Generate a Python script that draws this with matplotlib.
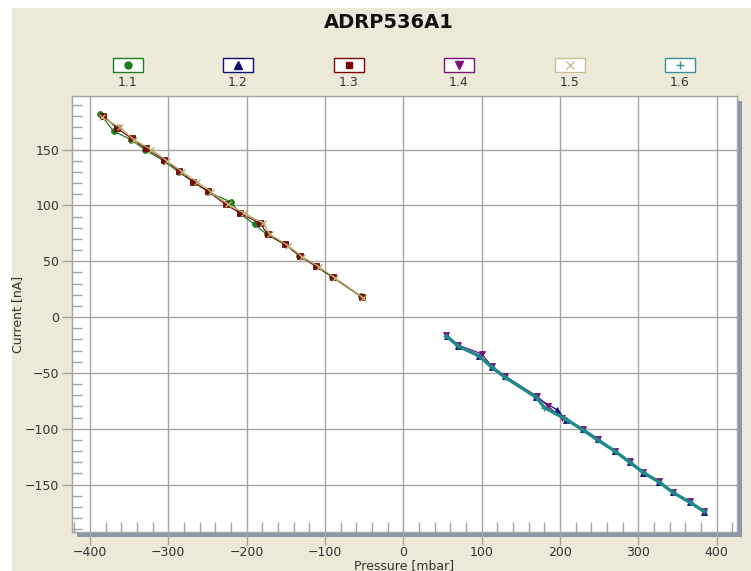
"""Pressure sweep chart for ADRP536A1."""

import matplotlib

matplotlib.use("Agg")
import matplotlib.pyplot as plt
from matplotlib.lines import Line2D
from matplotlib.patches import Rectangle
from matplotlib.ticker import MultipleLocator

# ---- data ----
labels = ["1.1", "1.2", "1.3", "1.4", "1.5", "1.6"]

x_11 = [-387, -370, -348, -330, -306, -287, -268, -249, -220, -209, -190, -174, -151, -133, -112, -91, -54]
y_11 = [182, 166.5, 159, 150, 140, 130, 121, 112, 103, 93, 83, 74, 65, 55, 45.5, 36, 18.5]

x_13 = [-383, -365, -347, -329, -305, -286, -268, -250, -227, -208, -183, -173, -151, -132, -112, -90, -53]
y_13 = [180, 169, 160, 151, 141, 131, 121, 113, 101, 93, 84, 74, 65, 55, 46, 36, 18]

x_15 = [-385, -362, -344, -322, -302, -282, -263, -245, -224, -203, -179, -170, -147, -129, -108, -87, -51]
y_15 = [179, 170, 159, 150, 140, 130, 121, 112, 101, 93, 84, 74, 64, 54, 45, 35, 17]

x_12 = [56, 70, 96, 113, 130, 170, 196, 208, 229, 248, 270, 289, 306, 327, 344, 366, 384]
y_12 = [-17, -26, -35, -45, -53, -72, -83, -92, -100, -109, -120, -130, -140, -148, -157, -166, -175]

x_14 = [55, 70, 100, 113, 130, 171, 185, 202, 229, 248, 270, 289, 306, 327, 344, 366, 384]
y_14 = [-16, -25, -33, -44, -53, -71, -80, -90, -100, -109, -120, -129, -139, -147, -157, -165, -174]

x_16 = [55, 70, 97, 113, 130, 170, 180, 209, 229, 248, 270, 289, 306, 327, 344, 366, 384]
y_16 = [-17, -26, -35, -45, -54, -72, -81, -92, -101, -110, -120, -130, -139, -148, -157, -166, -174]

# ---- style ----
BEIGE = "#ECE9D8"
GRID = "#A4A4A4"
SHADOW = "#8E97A8"
TEXT = "#333333"

series = [
    # label, x, y, color, marker, markersize, linewidth
    ("1.1", x_11, y_11, "#1E7D1E", "o", 4.2, 0.9),
    ("1.3", x_13, y_13, "#7A0A0A", "s", 4.2, 0.9),
    ("1.5", x_15, y_15, "#B8B070", "x", 4.2, 0.9),
    ("1.2", x_12, y_12, "#10106E", "^", 4.2, 0.9),
    ("1.4", x_14, y_14, "#7A107A", "v", 4.2, 0.9),
    ("1.6", x_16, y_16, "#1E8A8A", "+", 4.2, 2.4),
]
legend_style = {
    "1.1": ("#1E7D1E", "o", 5),
    "1.2": ("#10106E", "^", 5.5),
    "1.3": ("#7A0A0A", "s", 5),
    "1.4": ("#7A107A", "v", 5.5),
    "1.5": ("#C8C090", "x", 5.5),
    "1.6": ("#3A9090", "+", 5.5),
}

W, H = 751, 571
fig = plt.figure(figsize=(W / 100, H / 100), dpi=100, facecolor="white")


def fx(px):
    return px / W


def fy(py):
    return 1 - py / H


# beige panel (white strip top/left like the source screenshot)
fig.patches.append(Rectangle((fx(12), 0), 1 - fx(12), fy(8), transform=fig.transFigure,
                             facecolor=BEIGE, edgecolor="none", zorder=-3))

left, right, top, bottom = 72, 737, 96, 532
# drop shadow behind the plot area
fig.patches.append(Rectangle((fx(left + 5), fy(bottom + 5)), fx(right - left), (bottom - top) / H,
                             transform=fig.transFigure, facecolor=SHADOW, edgecolor="none", zorder=-2))

ax = fig.add_axes([fx(left), fy(bottom), fx(right - left), (bottom - top) / H])
ax.set_facecolor("white")

for label, xs, ys, color, marker, ms, lw in series:
    ax.plot(xs, ys, color=color, linewidth=lw, marker=marker, markersize=ms,
            markeredgewidth=1.0 if marker in "x+" else 0.6, zorder=3)

ax.set_xlim(-423, 426)
ax.set_ylim(-192.5, 198)

ax.xaxis.set_major_locator(MultipleLocator(100))
ax.xaxis.set_minor_locator(MultipleLocator(20))
ax.yaxis.set_major_locator(MultipleLocator(50))
ax.yaxis.set_minor_locator(MultipleLocator(10))
ax.grid(True, which="major", color=GRID, linewidth=1.0, zorder=0)
ax.set_axisbelow(True)

ax.tick_params(axis="x", which="major", direction="out", length=9, width=1, color=GRID,
               labelsize=9, labelcolor=TEXT, pad=1)
ax.tick_params(axis="y", which="major", direction="out", length=7, width=1, color=GRID,
               labelsize=9, labelcolor=TEXT, pad=2)
ax.tick_params(which="minor", direction="in", length=7, width=1, color=GRID)

for name, spine in ax.spines.items():
    spine.set_color(GRID)
    spine.set_linewidth(1.0)

ax.set_xlabel("Pressure [mbar]", fontsize=9, color=TEXT, labelpad=0)
ax.set_ylabel("Current [nA]", fontsize=9, color=TEXT, labelpad=1)

fig.text(fx(389), fy(22), "ADRP536A1", ha="center", va="center", fontsize=14,
         fontweight="bold", color="#111111")

# legend row: boxed marker with the series name underneath
centers = [128, 238, 349, 459, 570, 680]
for cx, label in zip(centers, labels):
    color, marker, ms = legend_style[label]
    fig.patches.append(Rectangle((fx(cx - 15), fy(72)), fx(30), 14 / H, transform=fig.transFigure,
                                 facecolor="white", edgecolor=color, linewidth=1.0, zorder=2))
    fig.lines.append(Line2D([fx(cx)], [fy(65)], transform=fig.transFigure, marker=marker,
                            markersize=ms, color=color, markeredgewidth=1.0, linestyle="none", zorder=3))
    fig.text(fx(cx), fy(83), label, ha="center", va="center", fontsize=9, color=TEXT)

fig.savefig("out.png", dpi=100, facecolor=fig.get_facecolor())
